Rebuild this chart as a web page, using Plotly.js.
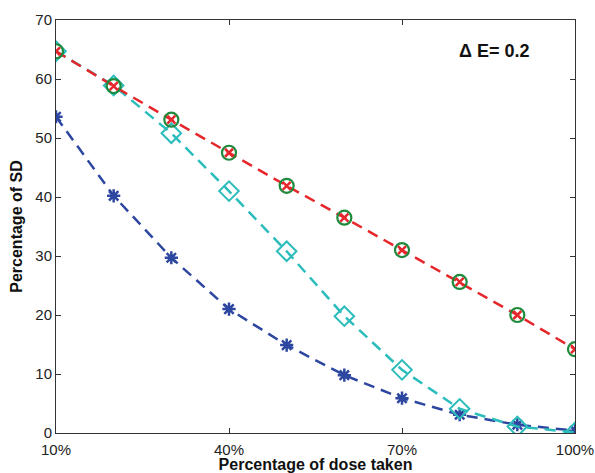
<!DOCTYPE html>
<html>
<head>
<meta charset="utf-8">
<script src="https://cdn.plot.ly/plotly-3.0.1.min.js"></script>
<style>html,body{margin:0;padding:0;background:#fff;}#chart{width:595px;height:473px;}</style>
</head>
<body>
<div id="chart"></div>
<script>
const dosePct = [10, 20, 30, 40, 50, 60, 70, 80, 90, 100];
const xTickVals = [10, 40, 70, 100];
const xTickText = ['10%', '40%', '70%', '100%'];
const redSeries = [64.7, 58.8, 53.1, 47.5, 41.9, 36.5, 31.0, 25.6, 20.0, 14.2];
const cyanSeries = [64.7, 58.9, 50.8, 41.0, 30.8, 19.8, 10.7, 4.1, 1.1, 0.1];
const blueSeries = [53.6, 40.2, 29.7, 21.0, 14.9, 9.8, 5.9, 3.1, 1.4, 0.4];

const RED = '#e6262a', GREEN = '#1f8a3c', CYAN = '#2bbcbc', BLUE = '#2d47a0';
const dash = '11px,7px';
const FONT = 'Liberation Sans, Arial, sans-serif';

const traces = [
  {x: dosePct, y: blueSeries, mode: 'lines+markers', line: {color: BLUE, width: 2.5, dash: dash},
   marker: {symbol: 'asterisk-open', size: 11, line: {color: BLUE, width: 2.5}}},
  {x: dosePct, y: cyanSeries, mode: 'lines+markers', line: {color: CYAN, width: 2.5, dash: dash},
   marker: {symbol: 'diamond-open', size: 15, color: CYAN, line: {color: CYAN, width: 2}}},
  {x: dosePct, y: redSeries, mode: 'lines+markers', line: {color: RED, width: 2.5, dash: dash},
   marker: {symbol: 'circle-open', size: 14, color: GREEN, line: {color: GREEN, width: 2.2}}},
  {x: dosePct, y: redSeries, mode: 'markers',
   marker: {symbol: 'x-thin-open', size: 8, color: RED, line: {color: RED, width: 2.5}}}
];

const axisCommon = {
  showline: true, linecolor: '#333', linewidth: 1, mirror: 'ticks',
  ticks: 'inside', ticklen: 5, tickcolor: '#333', showgrid: false, zeroline: false,
  tickfont: {family: FONT, size: 15, color: '#222'}
};

const layout = {
  width: 595, height: 473,
  margin: {l: 56, r: 20, t: 20, b: 40},
  paper_bgcolor: '#fff', plot_bgcolor: '#fff',
  showlegend: false,
  xaxis: Object.assign({}, axisCommon, {
    range: [10, 100], tickvals: xTickVals, ticktext: xTickText,
    ticklabelstandoff: 3,
    title: {text: 'Percentage of dose taken', standoff: 5,
      font: {family: FONT, size: 16, color: '#111', weight: 'bold'}},
    automargin: false
  }),
  yaxis: Object.assign({}, axisCommon, {
    range: [0, 70], dtick: 10,
    title: {text: 'Percentage of SD', standoff: 8,
      font: {family: FONT, size: 16, color: '#111', weight: 'bold'}},
    automargin: false
  }),
  annotations: [{
    xref: 'paper', yref: 'paper', x: 0.915, y: 0.925, xanchor: 'right', yanchor: 'middle',
    text: '<b>\u0394 E= 0.2</b>', showarrow: false,
    font: {family: FONT, size: 18, color: '#111'}
  }]
};

Plotly.newPlot('chart', traces, layout, {displayModeBar: false, staticPlot: true});
</script>
</body>
</html>
